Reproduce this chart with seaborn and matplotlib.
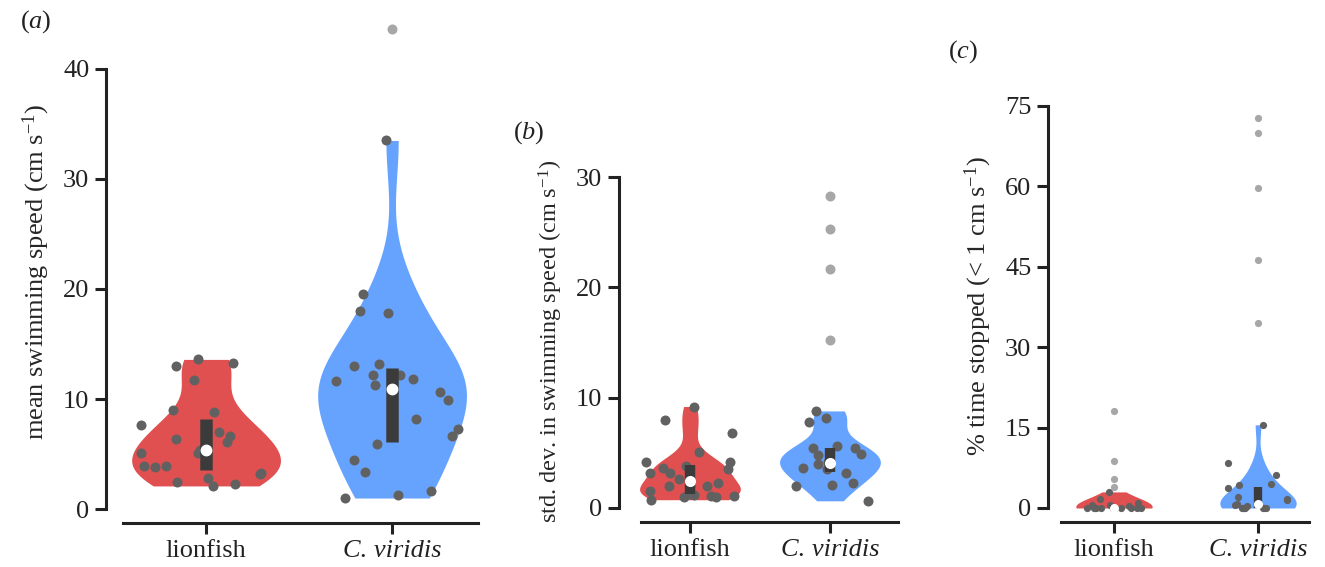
import numpy as np
import pandas as pd
import matplotlib
matplotlib.use("Agg")
import matplotlib.pyplot as plt
import seaborn as sns

# ---- data -------------------------------------------------------------
species = ["lionfish", "C. viridis"]

# (a) mean swimming speed (cm s^-1)
speed_lionfish = [2.1, 2.3, 2.5, 2.85, 3.2, 3.3, 3.8, 3.9, 3.9, 5.1, 5.1, 5.4,
                  6.1, 6.4, 6.6, 7.0, 7.6, 8.85, 9.0, 11.7, 13.0, 13.3, 13.6]
speed_viridis = [1.0, 1.25, 1.6, 3.4, 4.5, 5.9, 6.6, 7.3, 8.2, 9.9, 10.6, 11.3,
                 11.6, 11.8, 12.2, 12.2, 13.0, 13.2, 17.8, 18.0, 19.5, 33.5]
speed_lionfish_out = []
speed_viridis_out = [43.6]

# (b) standard deviation in swimming speed (cm s^-1)
sd_lionfish = [0.75, 1.0, 1.0, 1.1, 1.1, 1.2, 1.3, 1.5, 1.95, 1.95, 2.0, 2.3,
               2.65, 3.2, 3.2, 3.5, 3.65, 3.8, 4.2, 4.2, 5.1, 6.8, 8.0, 9.2]
sd_viridis = [0.65, 2.0, 2.1, 2.3, 3.2, 3.5, 3.6, 4.0, 4.0, 4.2, 4.8, 4.9,
              5.45, 5.45, 5.6, 7.8, 8.2, 8.8]
sd_lionfish_out = []
sd_viridis_out = [15.2, 21.7, 25.3, 28.3]

# (c) percentage of time stopped (< 1 cm s^-1)
stop_lionfish = [0, 0, 0, 0, 0, 0, 0, 0, 0, 0, 0, 0.3, 0.56, 0.56, 0.87, 1.7, 3.0]
stop_viridis = [0, 0, 0, 0, 0, 0, 0, 0.3, 0.5, 0.8, 1.5, 1.7, 2.0, 3.8, 4.2,
                4.5, 6.1, 8.4, 15.5]
stop_lionfish_out = [4.0, 5.4, 8.8, 18.1]
stop_viridis_out = [34.5, 46.3, 59.7, 69.85, 72.6]

# ---- style ------------------------------------------------------------
RED = "#E05050"
BLUE = "#66A3FF"
DOT = "#616161"
OUT = "#A7A7A7"
BOX = "#3B3B3B"
SPINE = "#222222"
palette = {"lionfish": RED, "C. viridis": BLUE}

sns.set_style("ticks")
plt.rcParams["font.family"] = ["Liberation Serif", "DejaVu Serif"]
plt.rcParams["mathtext.fontset"] = "custom"
plt.rcParams["mathtext.rm"] = "Liberation Serif"
plt.rcParams["mathtext.it"] = "Liberation Serif:italic"

W, H = 1325, 567
fig = plt.figure(figsize=(W / 100, H / 100), dpi=100)


def px_axes(left, right, top, bottom):
    return fig.add_axes([left / W, 1 - bottom / H, (right - left) / W, (bottom - top) / H])


def long_frame(a, b):
    return pd.DataFrame({
        "species": ["lionfish"] * len(a) + ["C. viridis"] * len(b),
        "value": list(a) + list(b),
    })


def panel(ax, main_a, main_b, out_a, out_b, width, bws, jitter, dot_size,
          box_lw, med_size, ylim, xlim, xbounds, ybounds, yticks, ylabel,
          ylabel_size, seed):
    df = long_frame(main_a, main_b)
    # one violin per species so each gets its own smoothing
    for name, bw in zip(species, bws):
        sub = df[df["species"] == name]
        sns.violinplot(data=sub, x="species", y="value", hue="species",
                       order=species, hue_order=species, palette=palette,
                       inner=None, cut=0, density_norm="width", width=width,
                       linewidth=0, bw_adjust=bw, saturation=1, legend=False,
                       ax=ax)
    np.random.seed(seed)
    sns.stripplot(data=df, x="species", y="value", order=species, color=DOT,
                  jitter=jitter, size=dot_size, linewidth=0, ax=ax, zorder=3)
    outs = long_frame(out_a, out_b)
    if len(outs):
        sns.stripplot(data=outs, x="species", y="value", order=species, color=OUT,
                      jitter=False, size=dot_size, linewidth=0, ax=ax, zorder=3)
    for i, vals in enumerate([main_a, main_b]):
        q1, med, q3 = np.percentile(vals, [25, 50, 75])
        ax.plot([i, i], [q1, q3], color=BOX, linewidth=box_lw,
                solid_capstyle="butt", zorder=4)
        ax.scatter([i], [med], s=med_size ** 2, color="white", linewidths=0, zorder=5)

    ax.set_xlim(*xlim)
    ax.set_ylim(*ylim)
    ax.set_yticks(yticks)
    ax.set_xticks([0, 1], species)
    ax.get_xticklabels()[1].set_fontstyle("italic")
    ax.set_xlabel("")
    ax.set_ylabel(ylabel, fontsize=ylabel_size, labelpad=8)
    for side in ("top", "right"):
        ax.spines[side].set_visible(False)
    for side in ("left", "bottom"):
        ax.spines[side].set_color(SPINE)
        ax.spines[side].set_linewidth(2.2)
    ax.spines["left"].set_bounds(*ybounds)
    ax.spines["bottom"].set_bounds(*xbounds)
    ax.tick_params(axis="both", length=8, width=2.2, color=SPINE, labelsize=19,
                   labelcolor="#222222")
    ax.tick_params(axis="y", pad=4)
    ax.tick_params(axis="x", pad=4)
    ax.set_facecolor("none")


ax_a = px_axes(106, 478, 20, 523)
panel(ax_a, speed_lionfish, speed_viridis, speed_lionfish_out, speed_viridis_out,
      width=0.8, bws=(1.0, 1.0), jitter=0.37, dot_size=7.2, box_lw=9, med_size=8.5,
      ylim=(-1.27, 44.45), xlim=(-0.538, 1.462), xbounds=(-0.446, 1.462),
      ybounds=(0, 40), yticks=[0, 10, 20, 30, 40],
      ylabel=r"mean swimming speed (cm s$^{-1}$)", ylabel_size=19, seed=3)

ax_b = px_axes(619, 898, 160, 522)
panel(ax_b, sd_lionfish, sd_viridis, sd_lionfish_out, sd_viridis_out,
      width=0.72, bws=(0.8, 0.9), jitter=0.33, dot_size=7.2, box_lw=7.5, med_size=8,
      ylim=(-1.27, 31.55), xlim=(-0.507, 1.486), xbounds=(-0.35, 1.486),
      ybounds=(0, 30), yticks=[0, 10, 20, 30],
      ylabel=r"std. dev. in swimming speed (cm s$^{-1}$)", ylabel_size=17.5, seed=7)

ax_c = px_axes(1048, 1309, 90, 522)
panel(ax_c, stop_lionfish, stop_viridis, stop_lionfish_out, stop_viridis_out,
      width=0.53, bws=(3.5, 1.1), jitter=0.22, dot_size=5.2, box_lw=6, med_size=6.5,
      ylim=(-2.61, 77.9), xlim=(-0.458, 1.354), xbounds=(-0.368, 1.354),
      ybounds=(0, 75), yticks=[0, 15, 30, 45, 60, 75],
      ylabel=r"% time stopped (< 1 cm s$^{-1}$)", ylabel_size=19, seed=5)

for label, (x, y) in zip(["a", "b", "c"], [(36, 22), (529, 133), (963, 52)]):
    fig.text(x / W, 1 - y / H, r"($\it{%s}$)" % label, ha="center", va="center",
             fontsize=19, color="#222222")

fig.savefig("out.png", dpi=100, facecolor="white")
